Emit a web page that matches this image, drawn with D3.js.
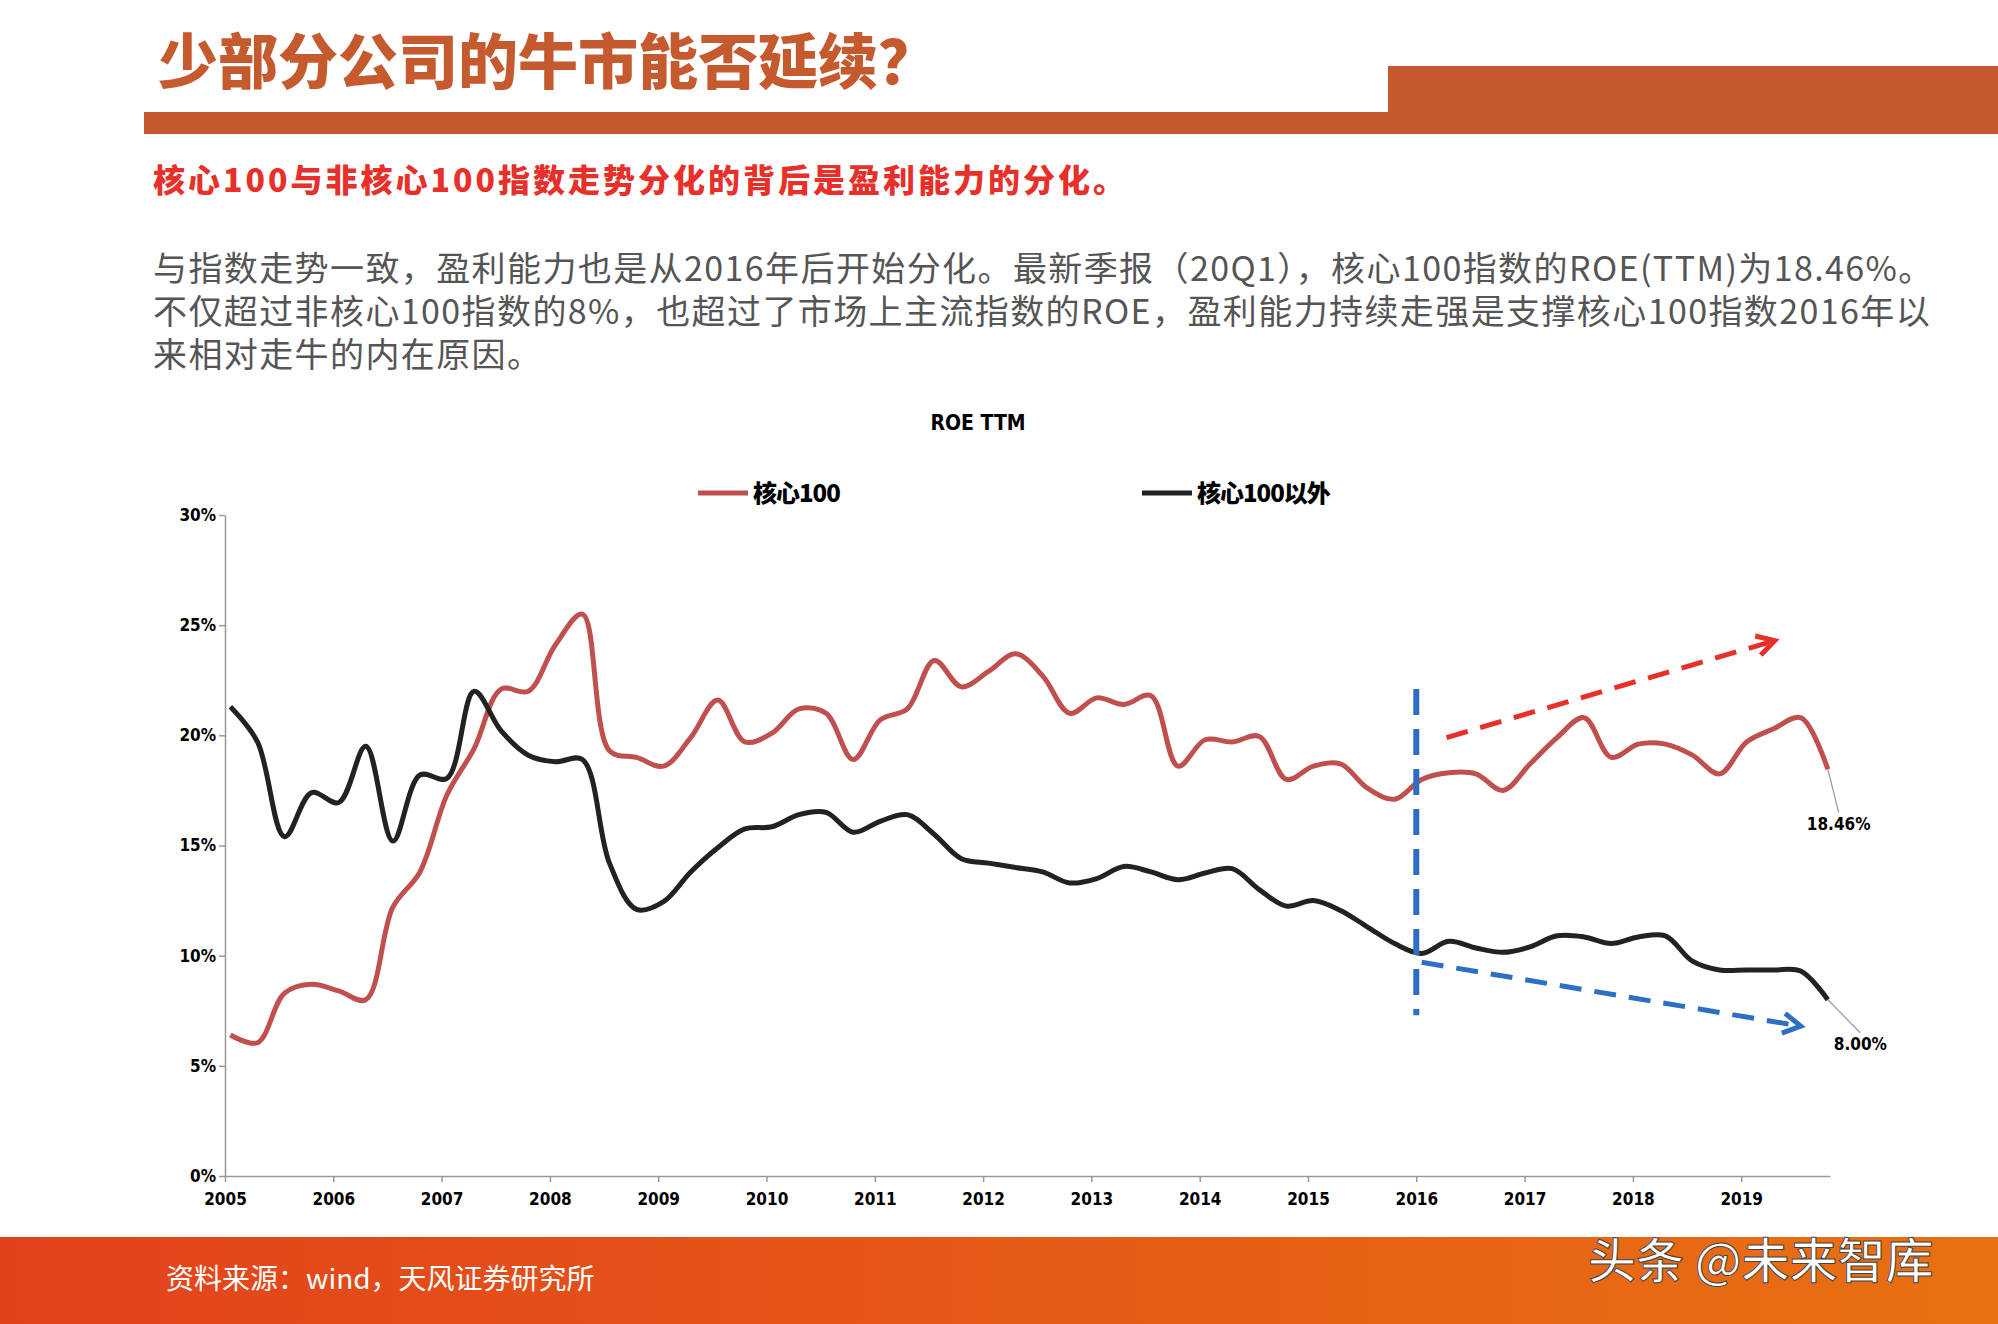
<!DOCTYPE html>
<html><head><meta charset="utf-8">
<script src="https://cdnjs.cloudflare.com/ajax/libs/d3/7.8.5/d3.min.js"></script>
<style>body{margin:0;background:#fff;overflow:hidden}</style>
</head><body><div id="chart"></div>
<script>
// quarterly ROE TTM (%), 2005Q1 .. 2019Q4
var startYear = 2005;
var core100 = [6.4,6.05,8.3,8.7, 8.4,8.0,12.2,13.8, 17.3,19.4,22.1,22.0, 24.1,25.5,19.3,19.0,
  18.6,19.9,21.6,19.7, 20.1,21.2,21.0,18.9, 20.7,21.2,23.4,22.2, 22.9,23.7,22.7,21.0,
  21.7,21.4,21.8,18.6, 19.8,19.7,19.95,18.0, 18.6,18.7,17.6,17.1, 18.0,18.3,18.25,17.5,
  18.7,19.9,20.8,19.0, 19.6,19.6,19.1,18.25, 19.7,20.3,20.8,18.46];
var nonCore100 = [21.3,19.7,15.4,17.4, 16.95,19.5,15.2,18.2, 18.05,22.0,20.2,19.1, 18.8,18.9,14.2,12.1,
  12.45,13.8,14.9,15.75, 15.85,16.4,16.5,15.6, 16.1,16.4,15.5,14.4, 14.2,14.0,13.8,13.3,
  13.5,14.05,13.8,13.45, 13.75,13.95,13.0,12.25, 12.5,12.05,11.3,10.55, 10.1,10.65,10.35,10.15,
  10.4,10.9,10.85,10.55, 10.85,10.9,9.75,9.35, 9.35,9.35,9.3,8.0];
var yearTicks = d3.range(2005, 2020);
var yTicks = [0,5,10,15,20,25,30];
var seriesNames = ["核心100","核心100以外"];
var endLabels = ["18.46%","8.00%"];

var W = 1998, H = 1324;
var svg = d3.select("#chart").append("svg").attr("width", W).attr("height", H);
var cjk = "'Noto Sans CJK SC', sans-serif";
var num = "'Liberation Sans Narrow','DejaVu Sans Condensed', sans-serif";

// header
svg.append("rect").attr("x",144).attr("y",112).attr("width",1250).attr("height",22).attr("fill","#c55a2f");
svg.append("rect").attr("x",1388).attr("y",66).attr("width",610).attr("height",68).attr("fill","#c55a2f");
svg.append("text").attr("x",158).attr("y",84).attr("font-family",cjk).attr("font-weight",900)
  .attr("font-size",60).attr("fill","#c55a2f").text("少部分公司的牛市能否延续？");
svg.append("text").attr("x",153).attr("y",192).attr("font-family",cjk).attr("font-weight",900)
  .attr("font-size",32).attr("fill","#e8302a").attr("letter-spacing",3).text("核心100与非核心100指数走势分化的背后是盈利能力的分化。");
var body = ["与指数走势一致，盈利能力也是从2016年后开始分化。最新季报（20Q1），核心100指数的ROE(TTM)为18.46%。",
  "不仅超过非核心100指数的8%，也超过了市场上主流指数的ROE，盈利能力持续走强是支撑核心100指数2016年以",
  "来相对走牛的内在原因。"];
svg.selectAll(".body").data(body).enter().append("text")
  .attr("x",153).attr("y",function(d,i){return 281+i*43;})
  .attr("font-family",cjk).attr("font-size",34).attr("fill","#555").attr("letter-spacing",1.4).text(function(d){return d;});

// footer
var grad = svg.append("defs").append("linearGradient").attr("id","fg");
grad.append("stop").attr("offset","0").attr("stop-color","#e2421b");
grad.append("stop").attr("offset","1").attr("stop-color","#e97012");
svg.append("rect").attr("x",0).attr("y",1237).attr("width",W).attr("height",87).attr("fill","url(#fg)");
svg.append("text").attr("x",166).attr("y",1289).attr("font-family",cjk).attr("font-size",28)
  .attr("fill","#fff").text("资料来源：wind，天风证券研究所");
svg.append("text").attr("x",1588).attr("y",1278).attr("font-family",cjk).attr("font-size",48).attr("font-weight",500)
  .attr("fill","#fff").attr("stroke","#444").attr("stroke-width",1).text("头条 @未来智库");

// chart
var x = d3.scaleLinear().domain([2005, 2019.82]).range([225, 1830]);
var y = d3.scaleLinear().domain([0, 30]).range([1176, 515]);
var xOf = function(d,i){ return x(startYear + 0.05 + i*0.25); };

svg.append("text").attr("x",978).attr("y",430).attr("text-anchor","middle").attr("font-family",num)
  .attr("font-weight","bold").attr("font-size",21).text("ROE TTM");

var ya = svg.append("g").attr("transform","translate(225,0)")
  .call(d3.axisLeft(y).tickValues(yTicks).tickFormat(function(d){return d+"%";}).tickSize(6).tickSizeOuter(0));
var xa = svg.append("g").attr("transform","translate(0,1176)")
  .call(d3.axisBottom(x).tickValues(yearTicks).tickFormat(d3.format("d")).tickSize(6).tickSizeOuter(0));
[ya, xa].forEach(function(a){
  a.selectAll("path,line").attr("stroke","#999").attr("stroke-width",1.5);
  a.selectAll("text").attr("font-family",num).attr("font-weight","bold").attr("font-size",17).attr("fill","#000");
});
xa.selectAll("text").attr("dy","1.2em");

var line = d3.line().x(xOf).y(function(d){return y(d);}).curve(d3.curveCatmullRom.alpha(0.5));
var colors = ["#c0504d","#222"];
[core100, nonCore100].forEach(function(s,k){
  svg.append("path").datum(s).attr("d",line).attr("fill","none").attr("stroke",colors[k]).attr("stroke-width",5);
});

// end labels with leader lines
var lblPos = [[2019.9,15.7],[2020.1,5.7]];
[core100, nonCore100].forEach(function(s,k){
  var n = s.length-1;
  svg.append("line").attr("x1",xOf(0,n)).attr("y1",y(s[n])).attr("x2",x(lblPos[k][0])).attr("y2",y(lblPos[k][1]+0.8))
    .attr("stroke","#999").attr("stroke-width",1.2);
  svg.append("text").attr("x",x(lblPos[k][0])).attr("y",y(lblPos[k][1])).attr("font-family",num)
    .attr("font-weight","bold").attr("font-size",17).attr("text-anchor","middle").text(endLabels[k]);
});

// legend
var leg = [[698,1198],[1142,1198]];
seriesNames.forEach(function(nm,k){
  svg.append("line").attr("x1",leg[k][0]).attr("x2",leg[k][0]+50).attr("y1",493).attr("y2",493)
    .attr("stroke",colors[k]).attr("stroke-width",5);
  svg.append("text").attr("x",leg[k][0]+55).attr("y",502).attr("font-family",cjk).attr("font-weight",900)
    .attr("font-size",24).attr("letter-spacing",-1).text(nm);
});

// annotations
var defs = svg.select("defs");
function arrow(id,c){
  defs.append("marker").attr("id",id).attr("viewBox","0 0 10 10").attr("refX",8).attr("refY",5)
    .attr("markerWidth",5).attr("markerHeight",5).attr("orient","auto")
    .append("path").attr("d","M1,1 L8,5 L1,9").attr("fill","none").attr("stroke",c).attr("stroke-width",2);
}
arrow("ar","#e8302a"); arrow("ab","#2e6fc4");
svg.append("line").attr("x1",x(2016)).attr("x2",x(2016)).attr("y1",y(22.1)).attr("y2",y(7.3))
  .attr("stroke","#2e6fc4").attr("stroke-width",6).attr("stroke-dasharray","26,14");
svg.append("line").attr("x1",x(2016.28)).attr("y1",y(19.9)).attr("x2",x(2019.31)).attr("y2",y(24.3))
  .attr("stroke","#e8302a").attr("stroke-width",5).attr("stroke-dasharray","22,13").attr("marker-end","url(#ar)");
svg.append("line").attr("x1",x(2016.05)).attr("y1",y(9.7)).attr("x2",x(2019.55)).attr("y2",y(6.8))
  .attr("stroke","#2e6fc4").attr("stroke-width",5).attr("stroke-dasharray","22,13").attr("marker-end","url(#ab)");
</script></body></html>
